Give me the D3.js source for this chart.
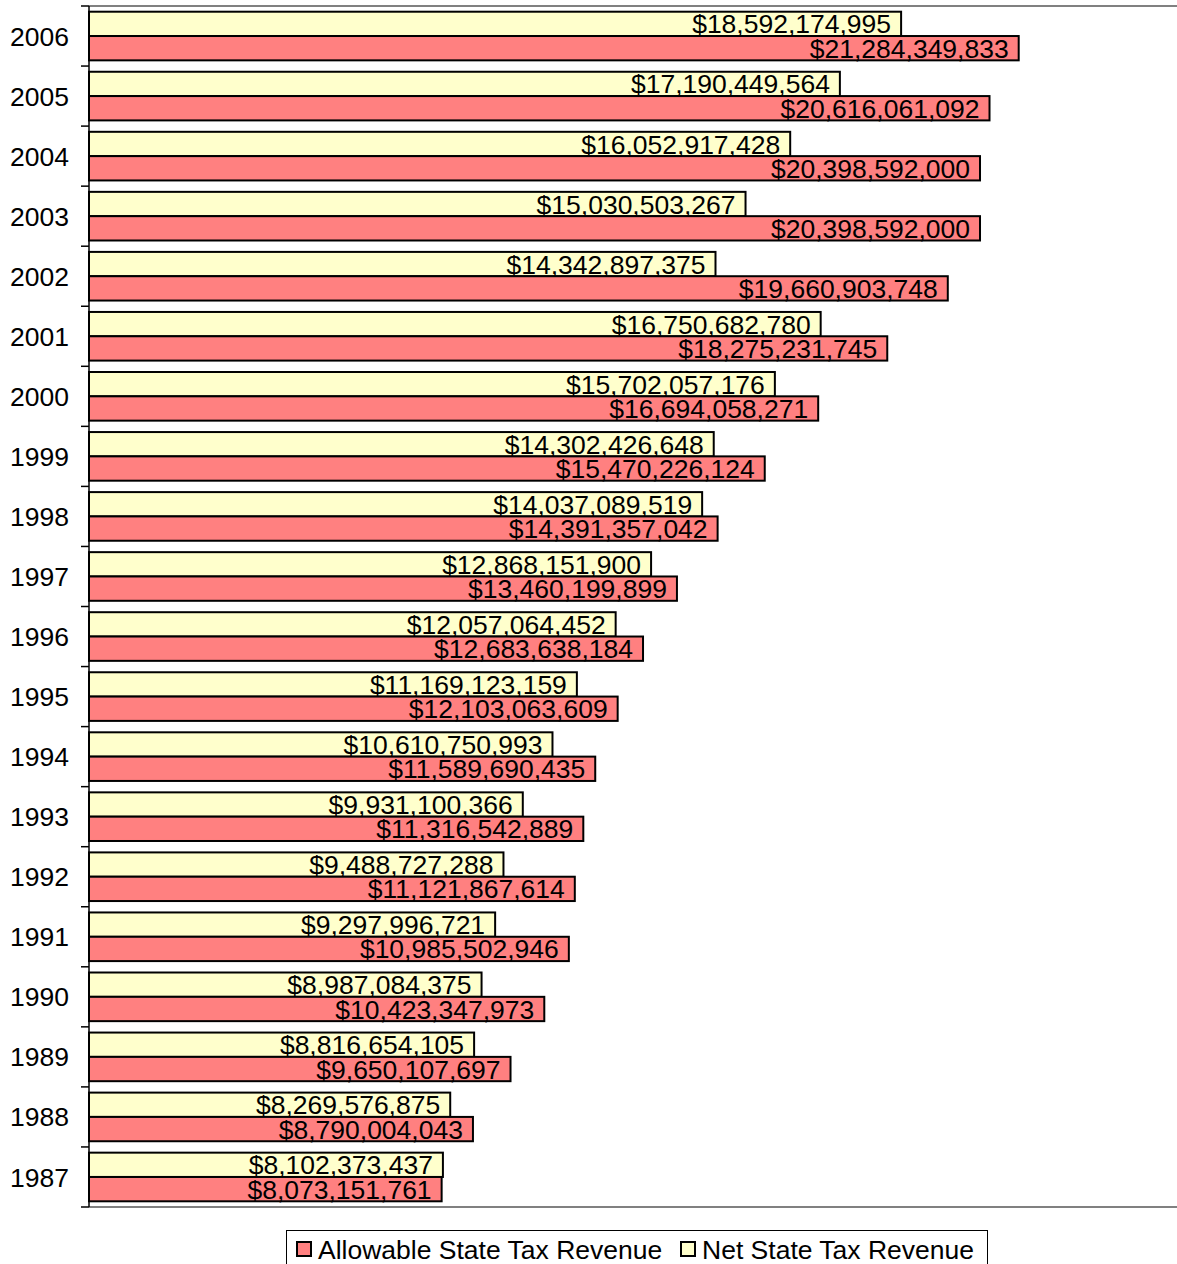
<!DOCTYPE html>
<html><head><meta charset="utf-8">
<script src="https://cdn.jsdelivr.net/npm/d3@7"></script>
<style>body{margin:0;background:#fff}svg{display:block;font-family:"Liberation Sans",Arial,sans-serif}</style>
</head><body><svg id="c" width="1177" height="1264"></svg>
<script>
const years = ["2006","2005","2004","2003","2002","2001","2000","1999","1998","1997","1996","1995","1994","1993","1992","1991","1990","1989","1988","1987"];
const netRevenue = [18592174995,17190449564,16052917428,15030503267,14342897375,16750682780,15702057176,14302426648,14037089519,12868151900,12057064452,11169123159,10610750993,9931100366,9488727288,9297996721,8987084375,8816654105,8269576875,8102373437];
const allowableRevenue = [21284349833,20616061092,20398592000,20398592000,19660903748,18275231745,16694058271,15470226124,14391357042,13460199899,12683638184,12103063609,11589690435,11316542889,11121867614,10985502946,10423347973,9650107697,8790004043,8073151761];
const seriesNames = ["Allowable State Tax Revenue","Net State Tax Revenue"];
const colors = {allow:"#FF8080", net:"#FFFFCC"};

const svg = d3.select("#c");
const x0 = 89, plotTop = 6, plotBottom = 1207;
const x = d3.scaleLinear().domain([0, 25e9]).range([x0, x0 + 25*43.68]);
const yOuter = d3.scaleBand().domain(years).range([plotTop, plotBottom]).padding(0);
const bw = yOuter.bandwidth();
const pad = bw*0.095;
const yInner = d3.scaleBand().domain(["net","allow"]).range([0, bw - 2*pad]);

svg.append("line").attr("x1",x0).attr("x2",1177).attr("y1",plotTop).attr("y2",plotTop).attr("stroke","#808080").attr("stroke-width",2);
svg.append("line").attr("x1",x0).attr("x2",1177).attr("y1",plotBottom).attr("y2",plotBottom).attr("stroke","#808080").attr("stroke-width",2);

const rows = years.map((yr,i)=>({yr, net:netRevenue[i], allow:allowableRevenue[i]}));
const fmt = v => "$" + d3.format(",")(v);

const g = svg.append("g");
rows.forEach(r=>{
  ["net","allow"].forEach(k=>{
    const yy = yOuter(r.yr) + pad + yInner(k);
    const h = yInner.bandwidth();
    g.append("rect").attr("x",x(0)).attr("y",yy).attr("width",x(r[k])-x(0)).attr("height",h)
      .attr("fill",colors[k]).attr("stroke","#000").attr("stroke-width",2);
    g.append("text").attr("x",x(r[k])-10).attr("y",yy+h/2).attr("dy","0.36em")
      .attr("text-anchor","end").attr("font-size",26.5).attr("fill","#000").text(fmt(r[k]));
  });
});

svg.append("line").attr("x1",x0).attr("x2",x0).attr("y1",plotTop).attr("y2",plotBottom).attr("stroke","#000").attr("stroke-width",1.5);
const tickYs = years.map(d=>yOuter(d)).concat([plotBottom]);
svg.selectAll(".tk").data(tickYs).enter().append("line")
  .attr("x1",81).attr("x2",x0).attr("y1",d=>d).attr("y2",d=>d).attr("stroke","#000").attr("stroke-width",1.5);
svg.selectAll(".yl").data(years).enter().append("text")
  .attr("x",69).attr("y",d=>yOuter(d)+bw/2).attr("dy","0.36em").attr("text-anchor","end")
  .attr("font-size",26.5).text(d=>d);

const lg = svg.append("g");
lg.append("rect").attr("x",286.5).attr("y",1230.5).attr("width",701).attr("height",40).attr("fill","#fff").attr("stroke","#000").attr("stroke-width",1);
const items = [{name:seriesNames[0], c:colors.allow, sx:296, tx:318},{name:seriesNames[1], c:colors.net, sx:680, tx:702}];
items.forEach(it=>{
  lg.append("rect").attr("x",it.sx+1).attr("y",1242).attr("width",14).attr("height",14).attr("fill",it.c).attr("stroke","#000").attr("stroke-width",2);
  lg.append("text").attr("x",it.tx).attr("y",1249).attr("dy","0.36em").attr("font-size",26.5).text(it.name);
});
</script></body></html>
